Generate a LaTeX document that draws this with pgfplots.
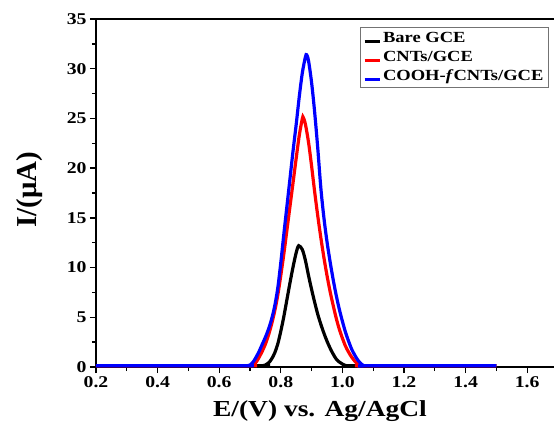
\documentclass[border=0pt]{standalone}
\usepackage{pgfplots}
\pgfplotsset{compat=1.18}
\usepackage{fontspec}
\setmainfont{Liberation Serif}[FakeStretch=1.2]
\newfontfamily\plainserif{Liberation Serif}

\begin{document}
\begin{tikzpicture}
\begin{axis}[
  at={(0,0)}, anchor=south west,
  scale only axis, width=458bp, height=348bp,
  xmin=0.2, xmax=1.687, ymin=0, ymax=35,
  axis x line*=box, axis y line*=left,
  xtick={0.2,0.4,0.6,0.8,1.0,1.2,1.4,1.6},
  ytick={0,5,10,15,20,25,30,35},
  minor x tick num=1, minor y tick num=1,
  tick align=outside,
  xtick pos=bottom, ytick pos=left,
  major tick length=6bp, minor tick length=4bp,
  every tick/.style={black, line width=1.3pt},
  axis line style={line width=1.7pt},
  x tick label style={/pgf/number format/.cd, fixed, fixed zerofill, precision=1, /tikz/.cd},
  /pgf/number format/assume math mode=true,
  tick label style={font=\fontsize{16.5}{16.5}\selectfont\bfseries},
  xlabel={E/(V) vs. Ag/AgCl},
  ylabel={I/(μA)},
  xlabel style={font=\fontsize{23}{23}\selectfont\bfseries,
    at={(axis description cs:0.489,-0.126)}, anchor=center},
  ylabel style={font=\plainserif\fontsize{29}{29}\selectfont\bfseries,
    at={(axis description cs:-0.144,0.509)}, anchor=center},
  clip=false,
  legend style={at={(0.989,0.977)}, anchor=north east,
    draw=black!55, line width=1pt,
    font=\fontsize{15.5}{16}\selectfont\bfseries,
    row sep=3bp, inner xsep=3bp, inner ysep=3bp,
    cells={anchor=west}},
  legend image code/.code={\draw[#1, line width=3pt] (0bp,-3.5bp) -- (15bp,-3.5bp);},
  every axis plot/.append style={line width=3.2pt, smooth, tension=0.5},
]
% bare glassy carbon electrode
\addplot[black] coordinates {
(0.20,0.12) (0.73,0.12) (0.74,0.12) (0.75,0.2) (0.76,0.4) (0.77,0.8) (0.78,1.4) (0.79,2.3)
(0.80,3.6) (0.81,5.1) (0.82,6.8) (0.83,8.5) (0.84,10.1) (0.85,11.5) (0.858,12.2)
(0.87,11.8) (0.88,10.7) (0.89,9.2) (0.90,7.8) (0.91,6.5) (0.92,5.3) (0.93,4.3)
(0.94,3.4) (0.95,2.6) (0.96,1.9) (0.97,1.3) (0.98,0.8) (0.99,0.5) (1.00,0.3)
(1.01,0.15) (1.02,0.12) (1.03,0.12) (1.50,0.12)
};
\addlegendentry{Bare GCE}
% CNT-modified electrode
\addplot[red] coordinates {
(0.20,0.12) (0.69,0.12) (0.70,0.12) (0.71,0.2) (0.72,0.5) (0.73,1.0) (0.74,1.6) (0.75,2.3)
(0.76,3.2) (0.77,4.3) (0.78,5.6) (0.79,7.2) (0.80,9.2) (0.81,11.4) (0.82,13.8)
(0.83,16.2) (0.84,18.6) (0.85,21.0) (0.86,23.3) (0.87,25.0) (0.873,25.1)
(0.88,24.4) (0.89,22.6) (0.90,20.2) (0.91,17.6) (0.92,15.2) (0.93,13.0)
(0.94,11.0) (0.95,9.2) (0.96,7.6) (0.97,6.2) (0.98,4.9) (0.99,3.8) (1.00,2.9)
(1.01,2.1) (1.02,1.5) (1.03,1.0) (1.04,0.6) (1.05,0.3) (1.06,0.12) (1.07,0.12) (1.50,0.12)
};
\addlegendentry{CNTs/GCE}
% carboxyl-functionalised CNT electrode
\addplot[blue] coordinates {
(0.20,0.12) (0.68,0.12) (0.69,0.12) (0.70,0.2) (0.71,0.5) (0.72,1.0) (0.73,1.6) (0.74,2.3)
(0.75,3.0) (0.76,3.8) (0.77,4.8) (0.78,6.1) (0.79,7.9) (0.80,10.5) (0.81,13.4)
(0.82,16.2) (0.83,19.0) (0.84,21.8) (0.85,24.4) (0.86,27.2) (0.87,29.6)
(0.88,31.2) (0.884,31.4) (0.89,30.8) (0.90,28.6) (0.91,25.6) (0.92,22.0)
(0.93,18.0) (0.94,15.0) (0.95,12.6) (0.96,10.6) (0.97,8.8) (0.98,7.2) (0.99,5.8)
(1.00,4.6) (1.01,3.5) (1.02,2.6) (1.03,1.8) (1.04,1.2) (1.05,0.7) (1.06,0.35)
(1.07,0.12) (1.08,0.12) (1.50,0.12)
};
\addlegendentry{COOH-\textit{f}CNTs/GCE}
\end{axis}
\pgfresetboundingbox
\path[use as bounding box] (-96bp,-65bp) rectangle (458bp,367bp);
\end{tikzpicture}
\end{document}
